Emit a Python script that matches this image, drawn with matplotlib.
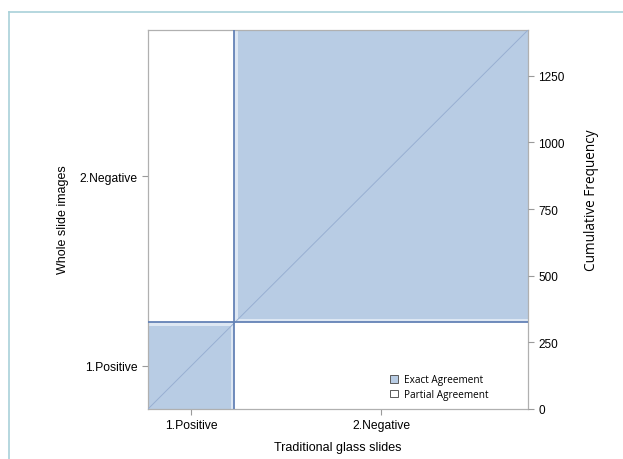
import matplotlib.pyplot as plt
from matplotlib.patches import Rectangle
from matplotlib.lines import Line2D

# 2x2 table: rows = whole slide images, columns = traditional glass slides
categories = ['1.Positive', '2.Negative']
counts = [[311, 15],    # WSI positive: glass positive, glass negative
          [11, 1085]]   # WSI negative: glass positive, glass negative
freq_ticks = [0, 250, 500, 750, 1000, 1250]

n = sum(sum(r) for r in counts)
row_tot = [sum(r) for r in counts]
col_tot = [counts[0][j] + counts[1][j] for j in range(2)]

fig = plt.figure(figsize=(6.23, 4.60), dpi=100)
ax = fig.add_axes([148/623, 1 - 410/460, 380/623, 379/460])
ax.set_xlim(0, n)
ax.set_ylim(0, n)

exact_c = '#b8cce4'
pale_c = '#dde7f3'
line_c = '#6482b6'

cx = cy = 0
for i in range(2):
    # marginal rectangle of the diagonal cell
    ax.add_patch(Rectangle((cx, cy), col_tot[i], row_tot[i], facecolor=pale_c,
                           edgecolor='none', zorder=1))
    # exact agreement square, shifted by the off-diagonal counts before it
    sx = cx + sum(counts[k][i] for k in range(i))
    sy = cy + sum(counts[i][k] for k in range(i))
    ax.add_patch(Rectangle((sx, sy), counts[i][i], counts[i][i], facecolor=exact_c,
                           edgecolor='none', zorder=2))
    cx += col_tot[i]
    cy += row_tot[i]

# lines at the marginal totals
ax.axvline(col_tot[0], color=line_c, lw=1.3, zorder=4)
ax.axhline(row_tot[0], color=line_c, lw=1.3, zorder=4)
ax.plot([0, n], [0, n], color='#98afd2', lw=0.7, zorder=3)

# category ticks at the middle of each marginal band
xmid = [col_tot[0] / 2, col_tot[0] + col_tot[1] / 2]
ymid = [row_tot[0] / 2, row_tot[0] + row_tot[1] / 2]
ax.set_xticks(xmid)
ax.set_xticklabels(categories)
ax.set_yticks(ymid)
ax.set_yticklabels(categories)
ax.tick_params(colors='#9a9a9a', labelcolor='black', labelsize=8.7, length=4, width=0.8)
for lab in ax.get_xticklabels() + ax.get_yticklabels():
    lab.set_family('Liberation Sans')
ax.set_xlabel('Traditional glass slides', family='Liberation Sans', fontsize=9)
ax.xaxis.set_label_coords(0.5, -32/379)
ax.set_ylabel('Whole slide images', family='Liberation Sans', fontsize=9)
ax.yaxis.set_label_coords(-79/380, 190/379)
for s in ax.spines.values():
    s.set_color('#b0b0b0')
    s.set_linewidth(0.9)

# right axis with cumulative frequency
ax2 = ax.twinx()
ax2.set_ylim(0, n)
ax2.set_yticks(freq_ticks)
ax2.tick_params(colors='#9a9a9a', labelcolor='black', labelsize=8.5, length=4, width=0.8)
for lab in ax2.get_yticklabels():
    lab.set_family('Liberation Sans')
ax2.set_ylabel('Cumulative Frequency', family='Open Sans', fontsize=9.8)
ax2.yaxis.set_label_coords(1 + 56/380, 210/379)
for s in ax2.spines.values():
    s.set_visible(False)

handles = [Rectangle((0, 0), 1, 1, facecolor=exact_c, edgecolor='#5a5a5a', lw=0.7),
           Rectangle((0, 0), 1, 1, facecolor='white', edgecolor='#5a5a5a', lw=0.7)]
ax.legend(handles, ['Exact Agreement', 'Partial Agreement'], loc='lower left',
          bbox_to_anchor=(233/380, 0.0), frameon=False, handlelength=0.75, handleheight=0.75,
          handletextpad=0.6, labelspacing=0.35, prop={'family': 'Open Sans', 'size': 7.2})

# outer frame lines
fig.add_artist(Line2D([9/623, 9/623], [0, 1 - 13/460], color='#a9d1d9', lw=1.2))
fig.add_artist(Line2D([9/623, 1], [1 - 13/460, 1 - 13/460], color='#a9d1d9', lw=1.2))

fig.savefig('out.png', dpi=100)
